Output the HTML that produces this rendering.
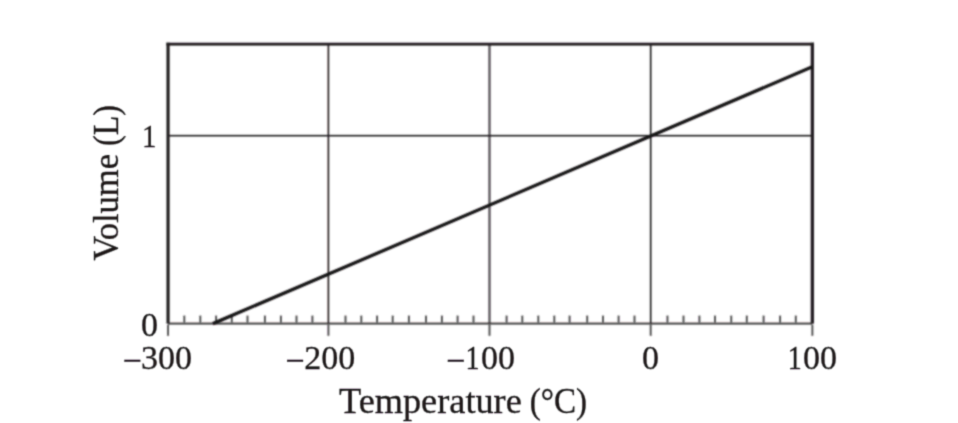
<!DOCTYPE html>
<html><head><meta charset="utf-8"><style>
html,body{margin:0;padding:0;background:#fff;}
body{width:958px;height:423px;overflow:hidden;}
svg{display:block;}
text{font-family:"Liberation Serif",serif;fill:#1a1718;stroke:#1a1718;stroke-width:0.3px;}
</style></head><body>
<svg width="958" height="423" viewBox="0 0 958 423">
<defs>
<filter id="soft" x="0" y="0" width="958" height="423" filterUnits="userSpaceOnUse">
<feConvolveMatrix order="5" kernelMatrix="0.00048 0.00501 0.01095 0.00501 0.00048 0.00501 0.05222 0.11405 0.05222 0.00501 0.01095 0.11405 0.24912 0.11405 0.01095 0.00501 0.05222 0.11405 0.05222 0.00501 0.00048 0.00501 0.01095 0.00501 0.00048" divisor="1" edgeMode="none" preserveAlpha="false"/>
</filter>
<filter id="softt" x="0" y="0" width="958" height="423" filterUnits="userSpaceOnUse">
<feConvolveMatrix order="5" kernelMatrix="0.00001 0.00042 0.00170 0.00042 0.00001 0.00042 0.02740 0.10988 0.02740 0.00042 0.00170 0.10988 0.44065 0.10988 0.00170 0.00042 0.02740 0.10988 0.02740 0.00042 0.00001 0.00042 0.00170 0.00042 0.00001" divisor="1" edgeMode="none" preserveAlpha="false"/>
</filter>
</defs>
<rect width="958" height="423" fill="#fff"/>
<g filter="url(#soft)" fill="#231f20">
<rect x="327.57" y="44.15" width="1.65" height="279.45"/>
<rect x="649.88" y="44.15" width="1.65" height="279.45"/>
<rect x="488.2" y="44.15" width="2.6" height="279.45" fill-opacity="0.68"/>
<rect x="168.05" y="134.88" width="644.3" height="1.65"/>
<rect x="168.05" y="322.5" width="644.3" height="2.2" fill-opacity="0.78"/>
<rect x="183.35" y="315.6" width="1.9" height="6.9" fill-opacity="0.8"/>
<rect x="199.35" y="315.6" width="1.9" height="6.9" fill-opacity="0.8"/>
<rect x="215.15" y="315.6" width="1.9" height="6.9" fill-opacity="0.8"/>
<rect x="230.85" y="315.6" width="1.9" height="6.9" fill-opacity="0.8"/>
<rect x="246.55" y="315.6" width="1.9" height="6.9" fill-opacity="0.8"/>
<rect x="263.95" y="315.6" width="1.9" height="6.9" fill-opacity="0.8"/>
<rect x="279.95" y="315.6" width="1.9" height="6.9" fill-opacity="0.8"/>
<rect x="295.55" y="315.6" width="1.9" height="6.9" fill-opacity="0.8"/>
<rect x="311.45" y="315.6" width="1.9" height="6.9" fill-opacity="0.8"/>
<rect x="344.55" y="315.6" width="1.9" height="6.9" fill-opacity="0.8"/>
<rect x="360.35" y="315.6" width="1.9" height="6.9" fill-opacity="0.8"/>
<rect x="376.15" y="315.6" width="1.9" height="6.9" fill-opacity="0.8"/>
<rect x="391.75" y="315.6" width="1.9" height="6.9" fill-opacity="0.8"/>
<rect x="407.95" y="315.6" width="1.9" height="6.9" fill-opacity="0.8"/>
<rect x="425.05" y="315.6" width="1.9" height="6.9" fill-opacity="0.8"/>
<rect x="440.95" y="315.6" width="1.9" height="6.9" fill-opacity="0.8"/>
<rect x="456.65" y="315.6" width="1.9" height="6.9" fill-opacity="0.8"/>
<rect x="472.55" y="315.6" width="1.9" height="6.9" fill-opacity="0.8"/>
<rect x="505.65" y="315.6" width="1.9" height="6.9" fill-opacity="0.8"/>
<rect x="521.35" y="315.6" width="1.9" height="6.9" fill-opacity="0.8"/>
<rect x="537.35" y="315.6" width="1.9" height="6.9" fill-opacity="0.8"/>
<rect x="553.35" y="315.6" width="1.9" height="6.9" fill-opacity="0.8"/>
<rect x="568.65" y="315.6" width="1.9" height="6.9" fill-opacity="0.8"/>
<rect x="586.25" y="315.6" width="1.9" height="6.9" fill-opacity="0.8"/>
<rect x="602.05" y="315.6" width="1.9" height="6.9" fill-opacity="0.8"/>
<rect x="617.65" y="315.6" width="1.9" height="6.9" fill-opacity="0.8"/>
<rect x="633.55" y="315.6" width="1.9" height="6.9" fill-opacity="0.8"/>
<rect x="666.5" y="315.6" width="1.9" height="6.9" fill-opacity="0.8"/>
<rect x="682.55" y="315.6" width="1.9" height="6.9" fill-opacity="0.8"/>
<rect x="698.45" y="315.6" width="1.9" height="6.9" fill-opacity="0.8"/>
<rect x="714.05" y="315.6" width="1.9" height="6.9" fill-opacity="0.8"/>
<rect x="730.3" y="315.6" width="1.9" height="6.9" fill-opacity="0.8"/>
<rect x="745.85" y="315.6" width="1.9" height="6.9" fill-opacity="0.8"/>
<rect x="762.65" y="315.6" width="1.9" height="6.9" fill-opacity="0.8"/>
<rect x="779.15" y="315.6" width="1.9" height="6.9" fill-opacity="0.8"/>
<rect x="794.85" y="315.6" width="1.9" height="6.9" fill-opacity="0.8"/>
<rect x="167.1" y="324.7" width="1.9" height="11.1" fill-opacity="0.8"/>
<rect x="327.45" y="324.7" width="1.9" height="11.1" fill-opacity="0.8"/>
<rect x="488.55" y="324.7" width="1.9" height="11.1" fill-opacity="0.8"/>
<rect x="649.75" y="324.7" width="1.9" height="11.1" fill-opacity="0.8"/>
<rect x="811.4" y="324.7" width="1.9" height="11.1" fill-opacity="0.8"/>
<rect x="166.45" y="42.7" width="3.2" height="280.9"/>
<rect x="166.45" y="42.7" width="647.55" height="2.9"/>
<rect x="810.7" y="42.7" width="3.3" height="280.9"/>
<line x1="212.9" y1="323.61" x2="812.35" y2="66.8" stroke="#151213" stroke-width="3.3" stroke-linecap="butt"/>
</g>
<g font-size="34" filter="url(#softt)">
<text transform="translate(149.2 147.4) scale(0.85 0.94)" text-anchor="middle">1</text>
<text x="141.1" y="336">0</text>
<text x="122.6" y="369.2"><tspan dy="2.7">−</tspan><tspan x="140.9" dy="-2.7">300</tspan></text>
<text x="285.2" y="369.2"><tspan dy="2.7">−</tspan><tspan x="304.3" dy="-2.7">200</tspan></text>
<text x="446" y="369.2"><tspan dy="2.7">−</tspan><tspan x="465.4" dy="-2.7" textLength="14" lengthAdjust="spacingAndGlyphs">1</tspan><tspan x="481.1">00</tspan></text>
<text x="641.9" y="369.2">0</text>
<text x="787.8" y="369.2"><tspan textLength="14" lengthAdjust="spacingAndGlyphs">1</tspan><tspan x="803.1">00</tspan></text>
<text x="339" y="413" font-size="35"><tspan textLength="182.8" lengthAdjust="spacingAndGlyphs">Temperature</tspan> <tspan x="529.65" textLength="57.4" lengthAdjust="spacingAndGlyphs">(°C)</tspan></text>
<text transform="translate(117.6 260.8) rotate(-90)" font-size="35"><tspan textLength="106.8" lengthAdjust="spacingAndGlyphs">Volume</tspan> <tspan x="114.8" textLength="40.87" lengthAdjust="spacingAndGlyphs">(L)</tspan></text>
</g>
</svg>
</body></html>
